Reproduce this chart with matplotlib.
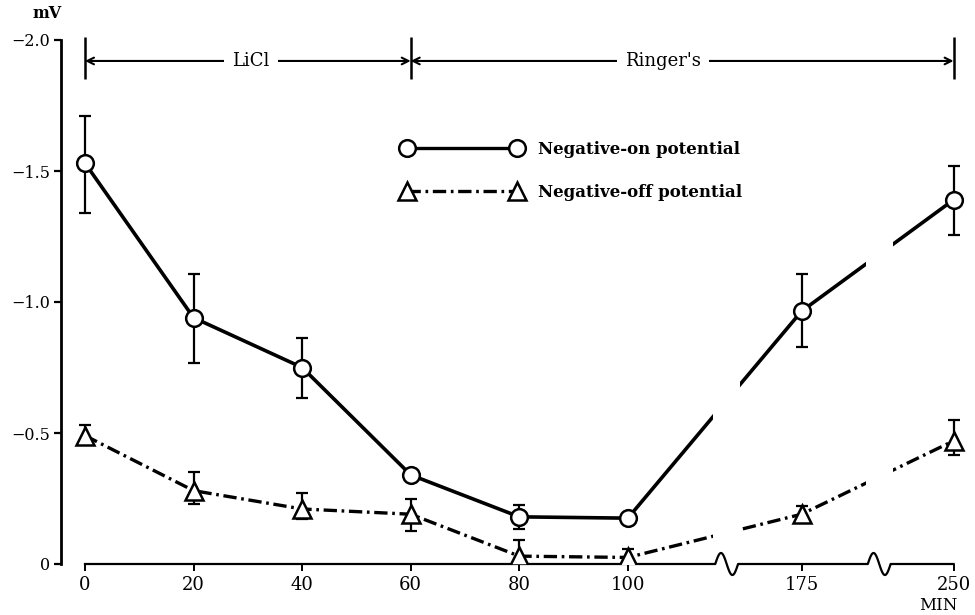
import matplotlib
matplotlib.use("Agg")
import matplotlib.pyplot as plt
import numpy as np

# Sampling times (min) and potentials (mV, negative up)
minutes = [0, 20, 40, 60, 80, 100, 175, 250]

on_mean = [-1.53, -0.94, -0.75, -0.34, -0.18, -0.175, -0.965, -1.39]
on_top = [-1.71, -1.107, -0.863, -0.36, -0.225, -0.19, -1.107, -1.52]
on_bottom = [-1.34, -0.767, -0.634, -0.32, -0.134, -0.16, -0.828, -1.256]

off_mean = [-0.49, -0.28, -0.21, -0.19, -0.03, -0.025, -0.19, -0.47]
off_top = [-0.53, -0.35, -0.27, -0.25, -0.09, -0.057, -0.22, -0.55]
off_bottom = [-0.47, -0.23, -0.17, -0.126, 0.0, -0.01, -0.17, -0.415]

tick_labels = ["0", "20", "40", "60", "80", "100", "175", "250"]
y_ticks = [-2.0, -1.5, -1.0, -0.5, 0.0]
y_tick_labels = ["\u22122.0", "\u22121.5", "\u22121.0", "\u22120.5", "0"]

# broken time axis: 0-100 linear, then two compressed stretches
scale_min = [0, 100, 175, 250]
scale_pos = [0, 100, 132, 160]
breaks = [118.2, 146.3]

SERIF = "DejaVu Serif"
DASHDOT = (0, (4.0, 1.4, 0.8, 1.4))


def to_axis(m):
    return np.interp(m, scale_min, scale_pos)


def err_pair(mean, top, bottom):
    mean, top, bottom = map(np.asarray, (mean, top, bottom))
    return [mean - np.minimum(top, bottom), np.maximum(top, bottom) - mean]


fig = plt.figure(figsize=(9.75, 6.15), dpi=100)
ax = fig.add_axes([61 / 975, 51 / 615, 904 / 975, 524 / 615])

x = to_axis(minutes)

ax.plot(x, on_mean, color="black", lw=2.6, ls="-", zorder=2)
ax.plot(x, off_mean, color="black", lw=2.4, ls=DASHDOT, zorder=2)

ax.errorbar(x, on_mean, yerr=err_pair(on_mean, on_top, on_bottom), fmt="none",
            ecolor="black", elinewidth=1.6, capsize=4.5, capthick=1.6, zorder=3)
ax.errorbar(x, off_mean, yerr=err_pair(off_mean, off_top, off_bottom), fmt="none",
            ecolor="black", elinewidth=1.6, capsize=4.5, capthick=1.6, zorder=3)

ax.plot(x, on_mean, ls="none", color="black", marker="o", ms=12, mfc="white",
        mec="black", mew=1.8, zorder=5, label="Negative-on potential")
ax.plot(x, off_mean, ls="none", color="black", marker="^", ms=13, mfc="white",
        mec="black", mew=1.8, zorder=5, label="Negative-off potential")

# white gaps where the lines cross the axis breaks
for b in breaks:
    ax.axvspan(b - 2.5, b + 2.5, ymin=0.03, ymax=0.63, color="white", lw=0, zorder=4)

# x axis line with wiggles at the breaks
w, amp = 4.2, 0.042
t = np.linspace(0, 1, 60)
xs, ys = [0.0], [0.0]
for b in breaks:
    xs += list(b - w / 2 + w * t)
    ys += list(-amp * np.sin(2 * np.pi * t))
xs.append(160.0)
ys.append(0.0)
ax.plot(xs, ys, color="black", lw=1.6, clip_on=False, zorder=3)

ax.set_xlim(-4.42, 162.1)
ax.set_ylim(0, -2.0)
for side in ("top", "right", "bottom"):
    ax.spines[side].set_visible(False)
ax.spines["left"].set_linewidth(2.0)

ax.set_xticks(to_axis(minutes))
ax.set_xticklabels(tick_labels, fontsize=13, family=SERIF)
ax.tick_params(axis="x", direction="out", length=5, width=1.4, pad=4)
ax.set_yticks(y_ticks)
ax.set_yticklabels(y_tick_labels, fontsize=11.5, family=SERIF)
ax.tick_params(axis="y", direction="out", length=5, width=1.6, pad=3)

# solution periods above the curves
bar_y = -1.92
for xb in (0, 60, 160):
    ax.vlines(xb, -2.01, -1.85, color="black", lw=1.8, clip_on=False, zorder=3)
for x0, x1 in ((0, 60), (60, 160)):
    ax.annotate("", xy=(x0, bar_y), xytext=(x1, bar_y),
                arrowprops=dict(arrowstyle="<->", lw=1.5, color="black",
                                shrinkA=0, shrinkB=0, mutation_scale=12))
box = dict(facecolor="white", edgecolor="none", pad=6)
ax.text(30.5, bar_y, "LiCl", ha="center", va="center", fontsize=13,
        family=SERIF, bbox=box, zorder=4)
ax.text(106.5, bar_y, "Ringer's", ha="center", va="center", fontsize=13,
        family=SERIF, bbox=box, zorder=4)

leg = ax.legend(loc="upper left", bbox_to_anchor=(0.361, 0.836), frameon=False,
                numpoints=2, handlelength=7.2, handletextpad=0.95, labelspacing=1.55,
                borderpad=0.4, prop=dict(family=SERIF, weight="bold", size=12))
leg_lines = leg.get_lines()
leg_lines[0].set_linestyle("-")
leg_lines[0].set_linewidth(2.4)
leg_lines[1].set_linestyle(DASHDOT)
leg_lines[1].set_linewidth(2.4)
for ln in leg_lines:
    ln.set_color("black")
    ln.set_markerfacecolor("white")
    ln.set_markeredgecolor("black")

fig.text(47 / 975, 1 - 13 / 615, "mV", ha="center", va="center", fontsize=11.5,
         family=SERIF, weight="bold")
fig.text(938 / 975, 1 - 605 / 615, "MIN", ha="center", va="center", fontsize=12,
         family=SERIF)

fig.savefig("out.png", dpi=100)
